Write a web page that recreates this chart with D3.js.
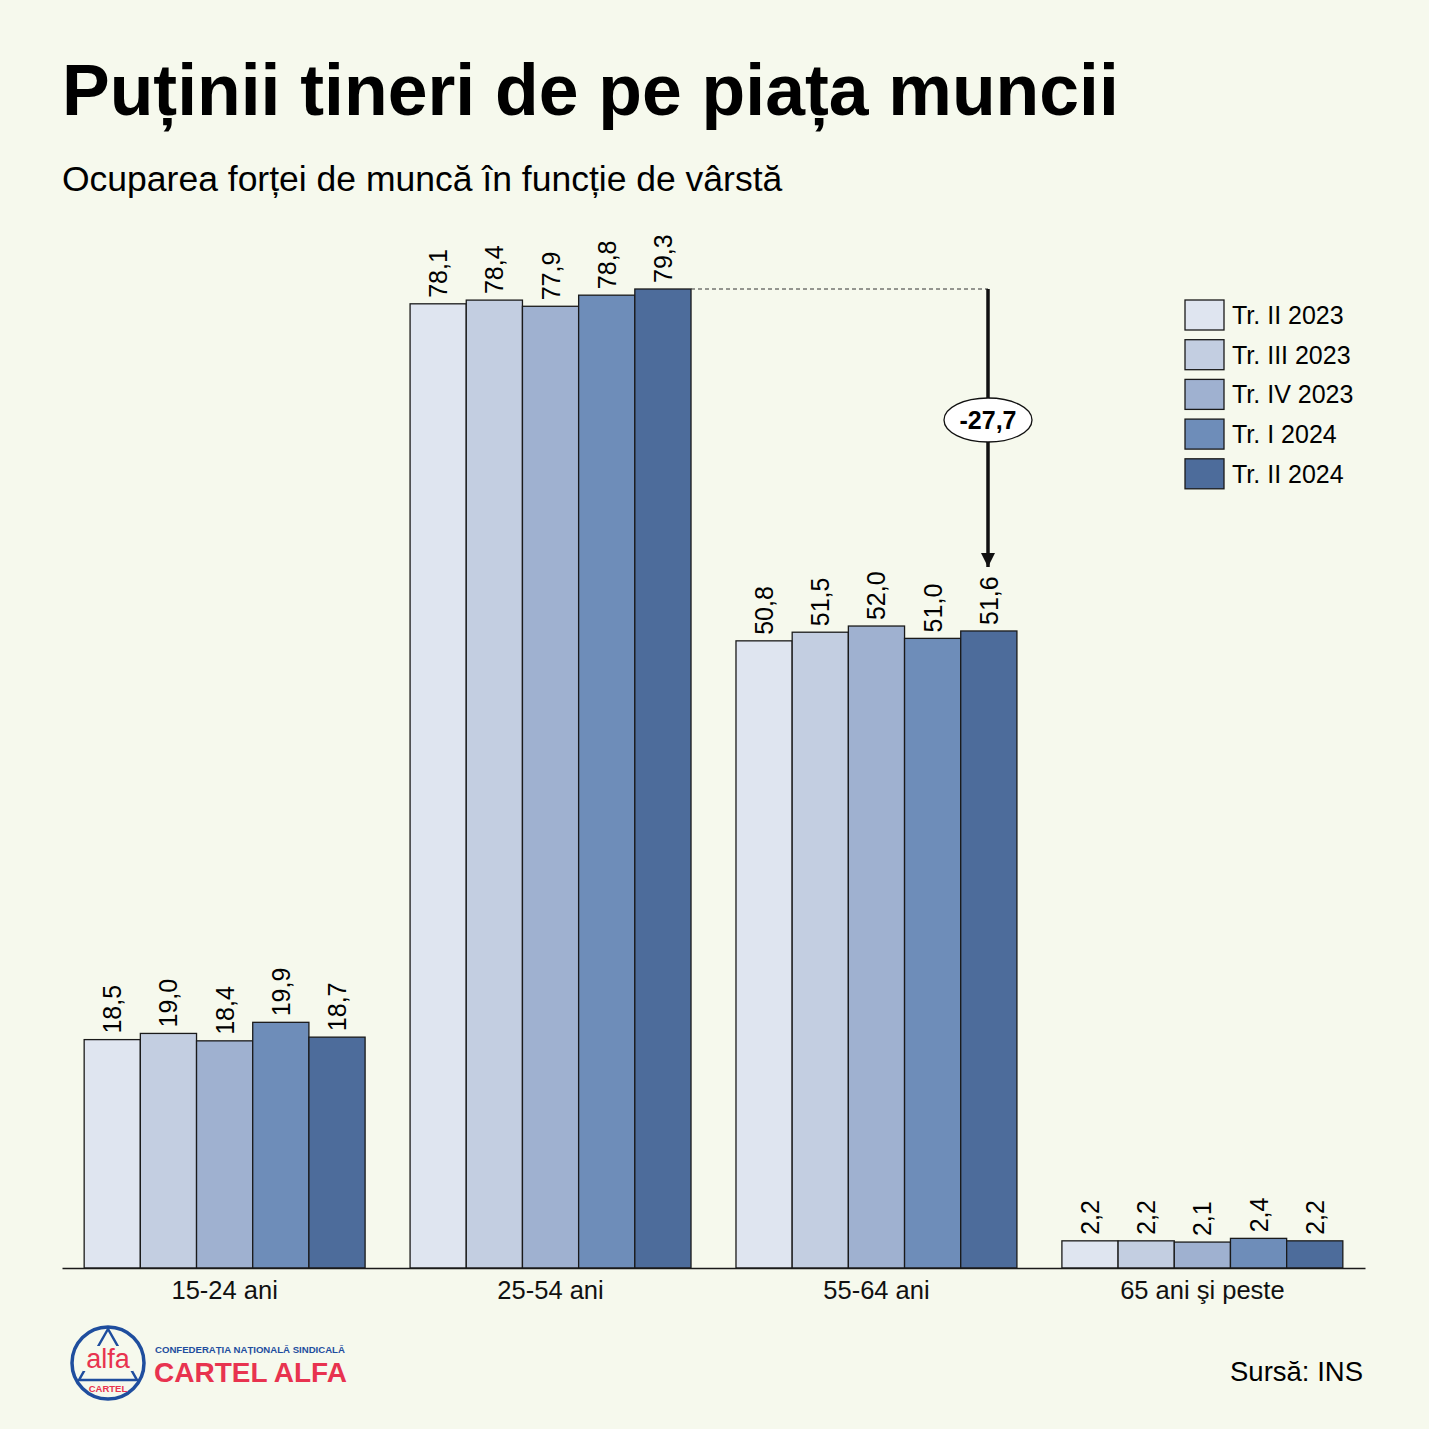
<!DOCTYPE html>
<html>
<head>
<meta charset="utf-8">
<script src="https://cdn.jsdelivr.net/npm/d3@7"></script>
<style>
  body { margin: 0; background: #f6f9ed; }
  svg { display: block; font-family: "Liberation Sans", Arial, sans-serif; }
</style>
</head>
<body>
<div id="chart"></div>
<script>
// data
var groups = ["15-24 ani", "25-54 ani", "55-64 ani", "65 ani şi peste"];
var series = ["Tr. II 2023", "Tr. III 2023", "Tr. IV 2023", "Tr. I 2024", "Tr. II 2024"];
var values = [
    [18.5, 19.0, 18.4, 19.9, 18.7],
    [78.1, 78.4, 77.9, 78.8, 79.3],
    [50.8, 51.5, 52.0, 51.0, 51.6],
    [2.2, 2.2, 2.1, 2.4, 2.2]
];
var colors = ["#dfe5f0", "#c3cee1", "#9fb1d0", "#6e8db9", "#4d6c9b"];
var diffLabel = "-27,7";

var width = 1429, height = 1429;

var svg = d3.select("#chart")
    .append("svg")
    .attr("width", width)
    .attr("height", height);

svg.append("rect").attr("width", width).attr("height", height).attr("fill", "#f6f9ed");

// titles
svg.append("text")
    .attr("x", 62).attr("y", 115)
    .style("font-size", "71.5px").style("font-weight", "bold")
    .text("Puținii tineri de pe piața muncii");

svg.append("text")
    .attr("x", 62).attr("y", 191)
    .style("font-size", "35.5px")
    .text("Ocuparea forței de muncă în funcție de vârstă");

var x0 = d3.scaleBand()
    .domain(groups)
    .range([62, 1365])
    .paddingInner(0.138)
    .paddingOuter(0.068);

var x1 = d3.scaleBand()
    .domain(series)
    .range([0, x0.bandwidth()]);

var y = d3.scaleLinear()
    .domain([0, 79.3])
    .range([1268, 289]);

var fmt = function (v) { return d3.format(".1f")(v).replace(".", ","); };

var g = svg.selectAll("g.grp")
    .data(groups)
    .enter()
    .append("g")
    .attr("class", "grp")
    .attr("transform", function (d) { return "translate(" + x0(d) + ",0)"; });

g.selectAll("rect")
    .data(function (d, i) {
        return values[i].map(function (v, j) { return { s: series[j], v: v, c: colors[j] }; });
    })
    .enter()
    .append("rect")
    .attr("x", function (d) { return x1(d.s); })
    .attr("y", function (d) { return y(d.v); })
    .attr("width", x1.bandwidth())
    .attr("height", function (d) { return y(0) - y(d.v); })
    .attr("fill", function (d) { return d.c; })
    .attr("stroke", "#1a1a1a")
    .attr("stroke-width", 1.3);

g.selectAll("text.val")
    .data(function (d, i) {
        return values[i].map(function (v, j) { return { s: series[j], v: v }; });
    })
    .enter()
    .append("text")
    .attr("class", "val")
    .attr("transform", function (d) {
        return "translate(" + (x1(d.s) + x1.bandwidth() / 2 + 9) + "," + (y(d.v) - 6) + ") rotate(-90)";
    })
    .style("font-size", "25px")
    .text(function (d) { return fmt(d.v); });

// x axis
var xAxis = svg.append("g")
    .attr("transform", "translate(0," + y(0) + ")")
    .call(d3.axisBottom(x0).tickSize(0).tickPadding(13));
xAxis.select(".domain").attr("stroke", "#1a1a1a").attr("stroke-width", 1.5);
xAxis.selectAll("text")
    .style("font-family", "Liberation Sans, Arial, sans-serif")
    .style("font-size", "25.5px")
    .attr("fill", "#111");

// annotation: difference 25-54 vs 55-64, Tr. II 2024
var last = series[4];
var xTopEnd = x0(groups[1]) + x1(last) + x1.bandwidth();
var xArrow = 988;
svg.append("line")
    .attr("x1", xTopEnd).attr("x2", xArrow)
    .attr("y1", y(values[1][4])).attr("y2", y(values[1][4]))
    .attr("stroke", "#333").attr("stroke-width", 1)
    .attr("stroke-dasharray", "4,3");

svg.append("defs").append("marker")
    .attr("id", "arr")
    .attr("viewBox", "0 0 10 10")
    .attr("refX", 10).attr("refY", 5)
    .attr("markerWidth", 4).attr("markerHeight", 4)
    .attr("markerUnits", "strokeWidth")
    .attr("orient", "auto")
    .append("path")
    .attr("d", "M0,0L10,5L0,10z")
    .attr("fill", "#111");

svg.append("line")
    .attr("x1", xArrow).attr("x2", xArrow)
    .attr("y1", y(values[1][4])).attr("y2", y(values[2][4]) - 64)
    .attr("stroke", "#111").attr("stroke-width", 3.5)
    .attr("marker-end", "url(#arr)");

var midY = 420;
svg.append("ellipse")
    .attr("cx", xArrow).attr("cy", midY)
    .attr("rx", 44).attr("ry", 22)
    .attr("fill", "#fff").attr("stroke", "#111").attr("stroke-width", 1.3);
svg.append("text")
    .attr("x", xArrow).attr("y", midY + 9)
    .attr("text-anchor", "middle")
    .style("font-size", "25px").style("font-weight", "bold")
    .text(diffLabel);

// legend
var legend = svg.selectAll("g.leg")
    .data(series)
    .enter()
    .append("g")
    .attr("class", "leg")
    .attr("transform", function (d, i) { return "translate(1185," + (300 + i * 39.7) + ")"; });
legend.append("rect")
    .attr("width", 39).attr("height", 30)
    .attr("fill", function (d, i) { return colors[i]; })
    .attr("stroke", "#1a1a1a").attr("stroke-width", 1.3);
legend.append("text")
    .attr("x", 47).attr("y", 24)
    .style("font-size", "25px")
    .text(function (d) { return d; });

// source
svg.append("text")
    .attr("x", 1363).attr("y", 1381)
    .attr("text-anchor", "end")
    .style("font-size", "27.5px")
    .text("Sursă: INS");

// logo
var logo = svg.append("g").attr("transform", "translate(108,1363)");
logo.append("circle").attr("r", 36).attr("fill", "none").attr("stroke", "#1f4e9e").attr("stroke-width", 3.5);
logo.append("path")
    .attr("d", "M0,-34L-29,17L29,17Z")
    .attr("fill", "none").attr("stroke", "#1f4e9e").attr("stroke-width", 2.5);
logo.append("rect").attr("x", -25).attr("y", -17).attr("width", 50).attr("height", 25).attr("fill", "#f6f9ed");
logo.append("text").attr("y", 5).attr("text-anchor", "middle")
    .style("font-size", "27px").attr("fill", "#e8334f").text("alfa");
logo.append("text").attr("y", 29).attr("text-anchor", "middle")
    .style("font-size", "9.5px").style("font-weight", "bold").attr("fill", "#e8334f").text("CARTEL");

svg.append("text")
    .attr("x", 155).attr("y", 1353)
    .style("font-size", "9.6px").style("font-weight", "bold")
    .attr("fill", "#1f4e9e")
    .text("CONFEDERAȚIA NAȚIONALĂ SINDICALĂ");
svg.append("text")
    .attr("x", 154).attr("y", 1382)
    .style("font-size", "28px").style("font-weight", "bold")
    .attr("fill", "#e8334f")
    .text("CARTEL ALFA");
</script>
</body>
</html>
